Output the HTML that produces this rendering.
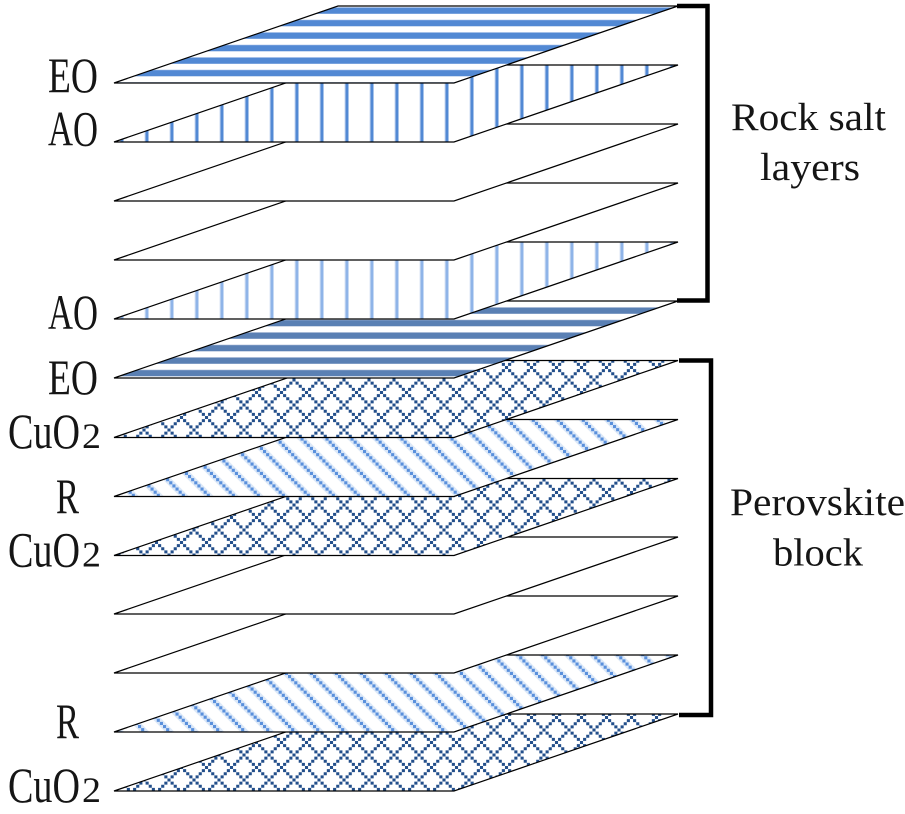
<!DOCTYPE html>
<html><head><meta charset="utf-8"><style>html,body{margin:0;padding:0;background:#fff}svg{display:block}text{font-family:"Liberation Serif",serif;fill:#151515}</style></head><body>
<svg width="905" height="814" viewBox="0 0 905 814" xmlns="http://www.w3.org/2000/svg">
<defs>
<pattern id="h" width="25" height="12.5" patternUnits="userSpaceOnUse"><rect width="25" height="12.5" fill="#fff"/><rect y="7" width="25" height="7.4" fill="#c9d8f0"/><rect y="0" width="25" height="1.4" fill="#c9d8f0"/><rect y="7.7" width="25" height="6" fill="#5289d4"/><rect y="0" width="25" height="1.2" fill="#5289d4"/></pattern>
<pattern id="h2" width="25" height="12.5" patternUnits="userSpaceOnUse"><rect width="25" height="12.5" fill="#fff"/><rect y="7" width="25" height="7.4" fill="#c9d3e4"/><rect y="0" width="25" height="1.4" fill="#c9d3e4"/><rect y="7.7" width="25" height="6" fill="#5a80b4"/><rect y="0" width="25" height="1.2" fill="#5a80b4"/></pattern>
<pattern id="v" width="25" height="25" patternUnits="userSpaceOnUse"><rect width="25" height="25" fill="#fff"/><rect x="19.5" width="1" height="25" fill="#c9d8f0"/><rect x="20.5" width="3" height="25" fill="#5289d4"/></pattern>
<pattern id="v2" width="25" height="25" patternUnits="userSpaceOnUse"><rect width="25" height="25" fill="#fff"/><rect x="19.5" width="1" height="25" fill="#dbe6f6"/><rect x="20.5" width="3" height="25" fill="#8fb4e8"/></pattern>
<pattern id="x" width="25" height="25" patternUnits="userSpaceOnUse" patternTransform="translate(19 5)"><rect width="25" height="25" fill="#fff"/><path fill="#234f8b" d="M-1.55 -1.55h3.1v3.1h-3.1zM1.575 1.575h3.1v3.1h-3.1zM4.7 4.7h3.1v3.1h-3.1zM7.825 7.825h3.1v3.1h-3.1zM10.95 10.95h3.1v3.1h-3.1zM14.075 14.075h3.1v3.1h-3.1zM17.2 17.2h3.1v3.1h-3.1zM20.325 20.325h3.1v3.1h-3.1zM23.45 23.45h3.1v3.1h-3.1zM23.45 -1.55h3.1v3.1h-3.1zM20.325 1.575h3.1v3.1h-3.1zM17.2 4.7h3.1v3.1h-3.1zM14.075 7.825h3.1v3.1h-3.1zM7.825 14.075h3.1v3.1h-3.1zM4.7 17.2h3.1v3.1h-3.1zM1.575 20.325h3.1v3.1h-3.1zM-1.55 23.45h3.1v3.1h-3.1z"/></pattern>
<pattern id="d" width="25" height="25" patternUnits="userSpaceOnUse" patternTransform="translate(13 0)"><rect width="25" height="25" fill="#fff"/><path d="M-5 -5L30 30M-30 -5L5 30M20 -5L55 30" stroke="#dce8f8" stroke-width="6.5" fill="none"/><path fill="#5a90dc" d="M0 0h3.1v3.1h-3.1zM3.125 3.125h3.1v3.1h-3.1zM6.25 6.25h3.1v3.1h-3.1zM9.375 9.375h3.1v3.1h-3.1zM12.5 12.5h3.1v3.1h-3.1zM15.625 15.625h3.1v3.1h-3.1zM18.75 18.75h3.1v3.1h-3.1zM21.875 21.875h3.1v3.1h-3.1z"/></pattern>
</defs>
<g stroke="#000" stroke-width="1.2" stroke-linejoin="miter">
<polygon points="114,791 454,791 678,714 338,714" fill="url(#x)"/>
<polygon points="114,732 454,732 678,655 338,655" fill="url(#d)"/>
<polygon points="114,673 454,673 678,596 338,596" fill="#fff"/>
<polygon points="114,614 454,614 678,537 338,537" fill="#fff"/>
<polygon points="114,555.5 454,555.5 678,478.5 338,478.5" fill="url(#x)"/>
<polygon points="114,496.5 454,496.5 678,419.5 338,419.5" fill="url(#d)"/>
<polygon points="114,437.5 454,437.5 678,360.5 338,360.5" fill="url(#x)"/>
<polygon points="114,378 454,378 678,301 338,301" fill="url(#h2)"/>
<polygon points="114,319 454,319 678,242 338,242" fill="url(#v2)"/>
<polygon points="114,260 454,260 678,183 338,183" fill="#fff"/>
<polygon points="114,201 454,201 678,124 338,124" fill="#fff"/>
<polygon points="114,142 454,142 678,65 338,65" fill="url(#v)"/>
<polygon points="114,83 454,83 678,6 338,6" fill="url(#h)"/>
</g>
<path d="M677 6H707.5V300.5H677" fill="none" stroke="#000" stroke-width="4.5"/>
<path d="M679 360.5H711V715H679" fill="none" stroke="#000" stroke-width="4.5"/>
<g font-size="50">
<text x="48" y="92" textLength="50" lengthAdjust="spacingAndGlyphs">EO</text>
<text x="48" y="145.5" textLength="50" lengthAdjust="spacingAndGlyphs">AO</text>
<text x="48" y="329" textLength="50" lengthAdjust="spacingAndGlyphs">AO</text>
<text x="48" y="394" textLength="50" lengthAdjust="spacingAndGlyphs">EO</text>
<text x="56" y="513" textLength="23" lengthAdjust="spacingAndGlyphs">R</text>
<text x="56" y="738" textLength="23" lengthAdjust="spacingAndGlyphs">R</text>
<text x="8" y="448" textLength="72" lengthAdjust="spacingAndGlyphs">CuO</text>
<text x="8" y="566.5" textLength="72" lengthAdjust="spacingAndGlyphs">CuO</text>
<text x="8" y="802" textLength="72" lengthAdjust="spacingAndGlyphs">CuO</text>
</g>
<g font-size="36">
<text x="82" y="448" textLength="19" lengthAdjust="spacingAndGlyphs">2</text>
<text x="82" y="566.5" textLength="19" lengthAdjust="spacingAndGlyphs">2</text>
<text x="82" y="802" textLength="19" lengthAdjust="spacingAndGlyphs">2</text>
</g>
<g font-size="39">
<text x="731" y="130" textLength="155" lengthAdjust="spacingAndGlyphs">Rock salt</text>
<text x="760" y="180" textLength="100" lengthAdjust="spacingAndGlyphs">layers</text>
<text x="730" y="515" textLength="175" lengthAdjust="spacingAndGlyphs">Perovskite</text>
<text x="773" y="565.5" textLength="90" lengthAdjust="spacingAndGlyphs">block</text>
</g>
</svg>
</body></html>
